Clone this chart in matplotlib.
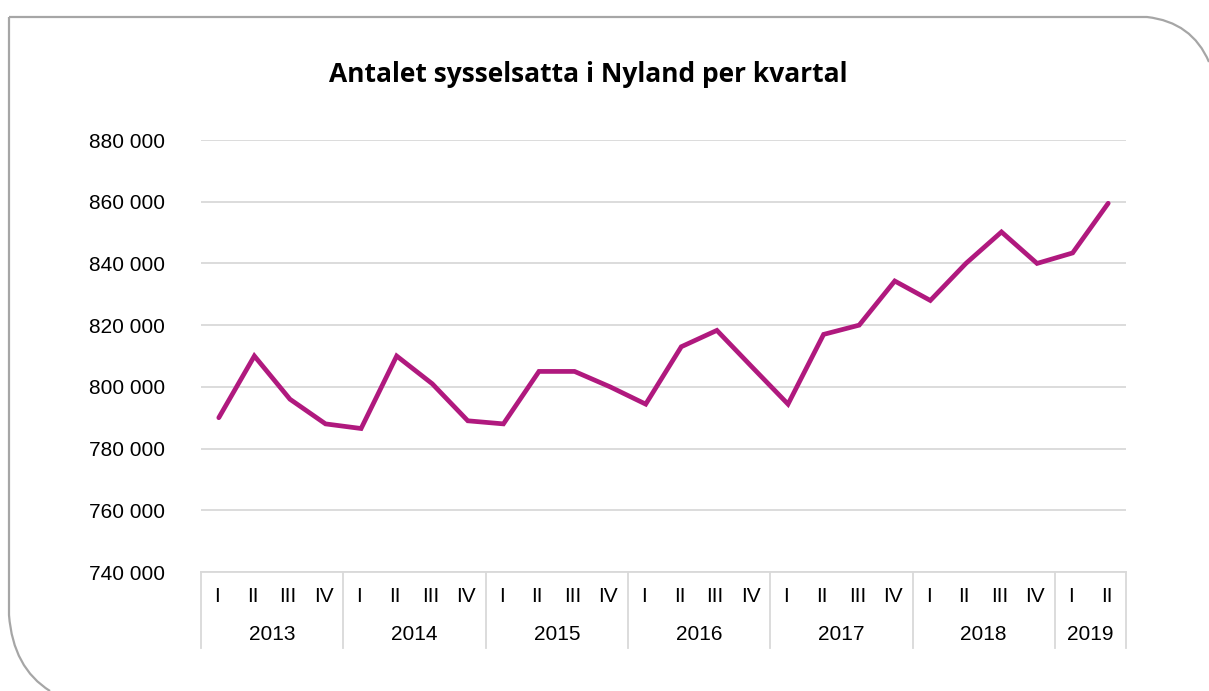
import matplotlib
matplotlib.use("Agg")
import matplotlib.pyplot as plt
from matplotlib.patches import PathPatch
from matplotlib.path import Path
from matplotlib.ticker import FuncFormatter, MultipleLocator

years = ["2013", "2014", "2015", "2016", "2017", "2018", "2019"]
quarters_per_year = [4, 4, 4, 4, 4, 4, 2]
quarter_names = ["I", "II", "III", "IV"]
employed = [790000, 810000, 796000, 788000, 786500, 810000, 801000, 789000,
            788000, 805000, 805000, 800000, 794400, 813000, 818300, 806300,
            794400, 817000, 820000, 834300, 828000, 840000, 850200, 840000,
            843400, 859500]

W, H = 1209, 691
fig = plt.figure(figsize=(W / 100, H / 100), dpi=100)
fig.patch.set_facecolor("white")

# rounded frame (top-right and bottom-left corners rounded)
x0, y0 = 9, 17
path = Path([(x0, H - y0), (1147, H - y0), (1192, H - y0 - 5), (1209, H - 62)],
            [Path.MOVETO, Path.LINETO, Path.CURVE3, Path.CURVE3])
fig.add_artist(PathPatch(path, transform=None, fill=False, ec="#a6a6a6", lw=1.6))
path2 = Path([(x0, H - y0), (x0, H - 615), (x0 + 4, H - 668), (50, H - 691)],
             [Path.MOVETO, Path.LINETO, Path.CURVE3, Path.CURVE3])
fig.add_artist(PathPatch(path2, transform=None, fill=False, ec="#a6a6a6", lw=1.6))

left, right, top, bottom = 201, 1126, 140, 572
ax = fig.add_axes([left / W, 1 - bottom / H, (right - left) / W, (bottom - top) / H])

n = len(employed)
xs = list(range(n))
ax.plot(xs, employed, color="#b0197e", lw=3.4, solid_joinstyle="miter",
        solid_capstyle="round", zorder=3)

ax.set_xlim(-0.5, n - 0.5)
ax.set_ylim(740000, 880000)
ax.yaxis.set_major_locator(MultipleLocator(20000))
ax.yaxis.set_major_formatter(FuncFormatter(lambda v, p: f"{int(v):,}".replace(",", " ")))
ax.grid(axis="y", color="#d9d9d9", lw=1.3)
ax.set_axisbelow(True)
for s in ax.spines.values():
    s.set_visible(False)
ax.tick_params(axis="y", length=0, pad=26, labelsize=15, labelcolor="#000000")
ax.set_xticks([])
for lab in ax.get_yticklabels():
    lab.set_fontfamily("Liberation Sans")

# multi-level category axis
trans = ax.get_xaxis_transform()
sep_h = (648 - bottom) / (bottom - top)
q_y = -(597 - bottom) / (bottom - top)
y_y = -(634 - bottom) / (bottom - top)
pos = 0
bounds = [-0.5]
for yr, nq in zip(years, quarters_per_year):
    for q in range(nq):
        ax.text(pos + q - 0.05, q_y, quarter_names[q], transform=trans, ha="center",
                va="center", fontsize=15, family="Liberation Sans")
    ax.text(pos + (nq - 1) / 2, y_y, yr, transform=trans, ha="center", va="center",
            fontsize=15, family="Liberation Sans")
    pos += nq
    bounds.append(pos - 0.5)
for b in bounds:
    ax.plot([b, b], [0, -sep_h], transform=trans, color="#d9d9d9", lw=1.3, clip_on=False)
ax.plot([-0.5, n - 0.5], [0, 0], transform=trans, color="#d9d9d9", lw=1.3, clip_on=False)

fig.text(588 / W, 1 - 74 / H, "Antalet sysselsatta i Nyland per kvartal", ha="center",
         va="center", fontsize=19, fontweight="bold", family="Open Sans")

fig.savefig("out.png", dpi=100)
